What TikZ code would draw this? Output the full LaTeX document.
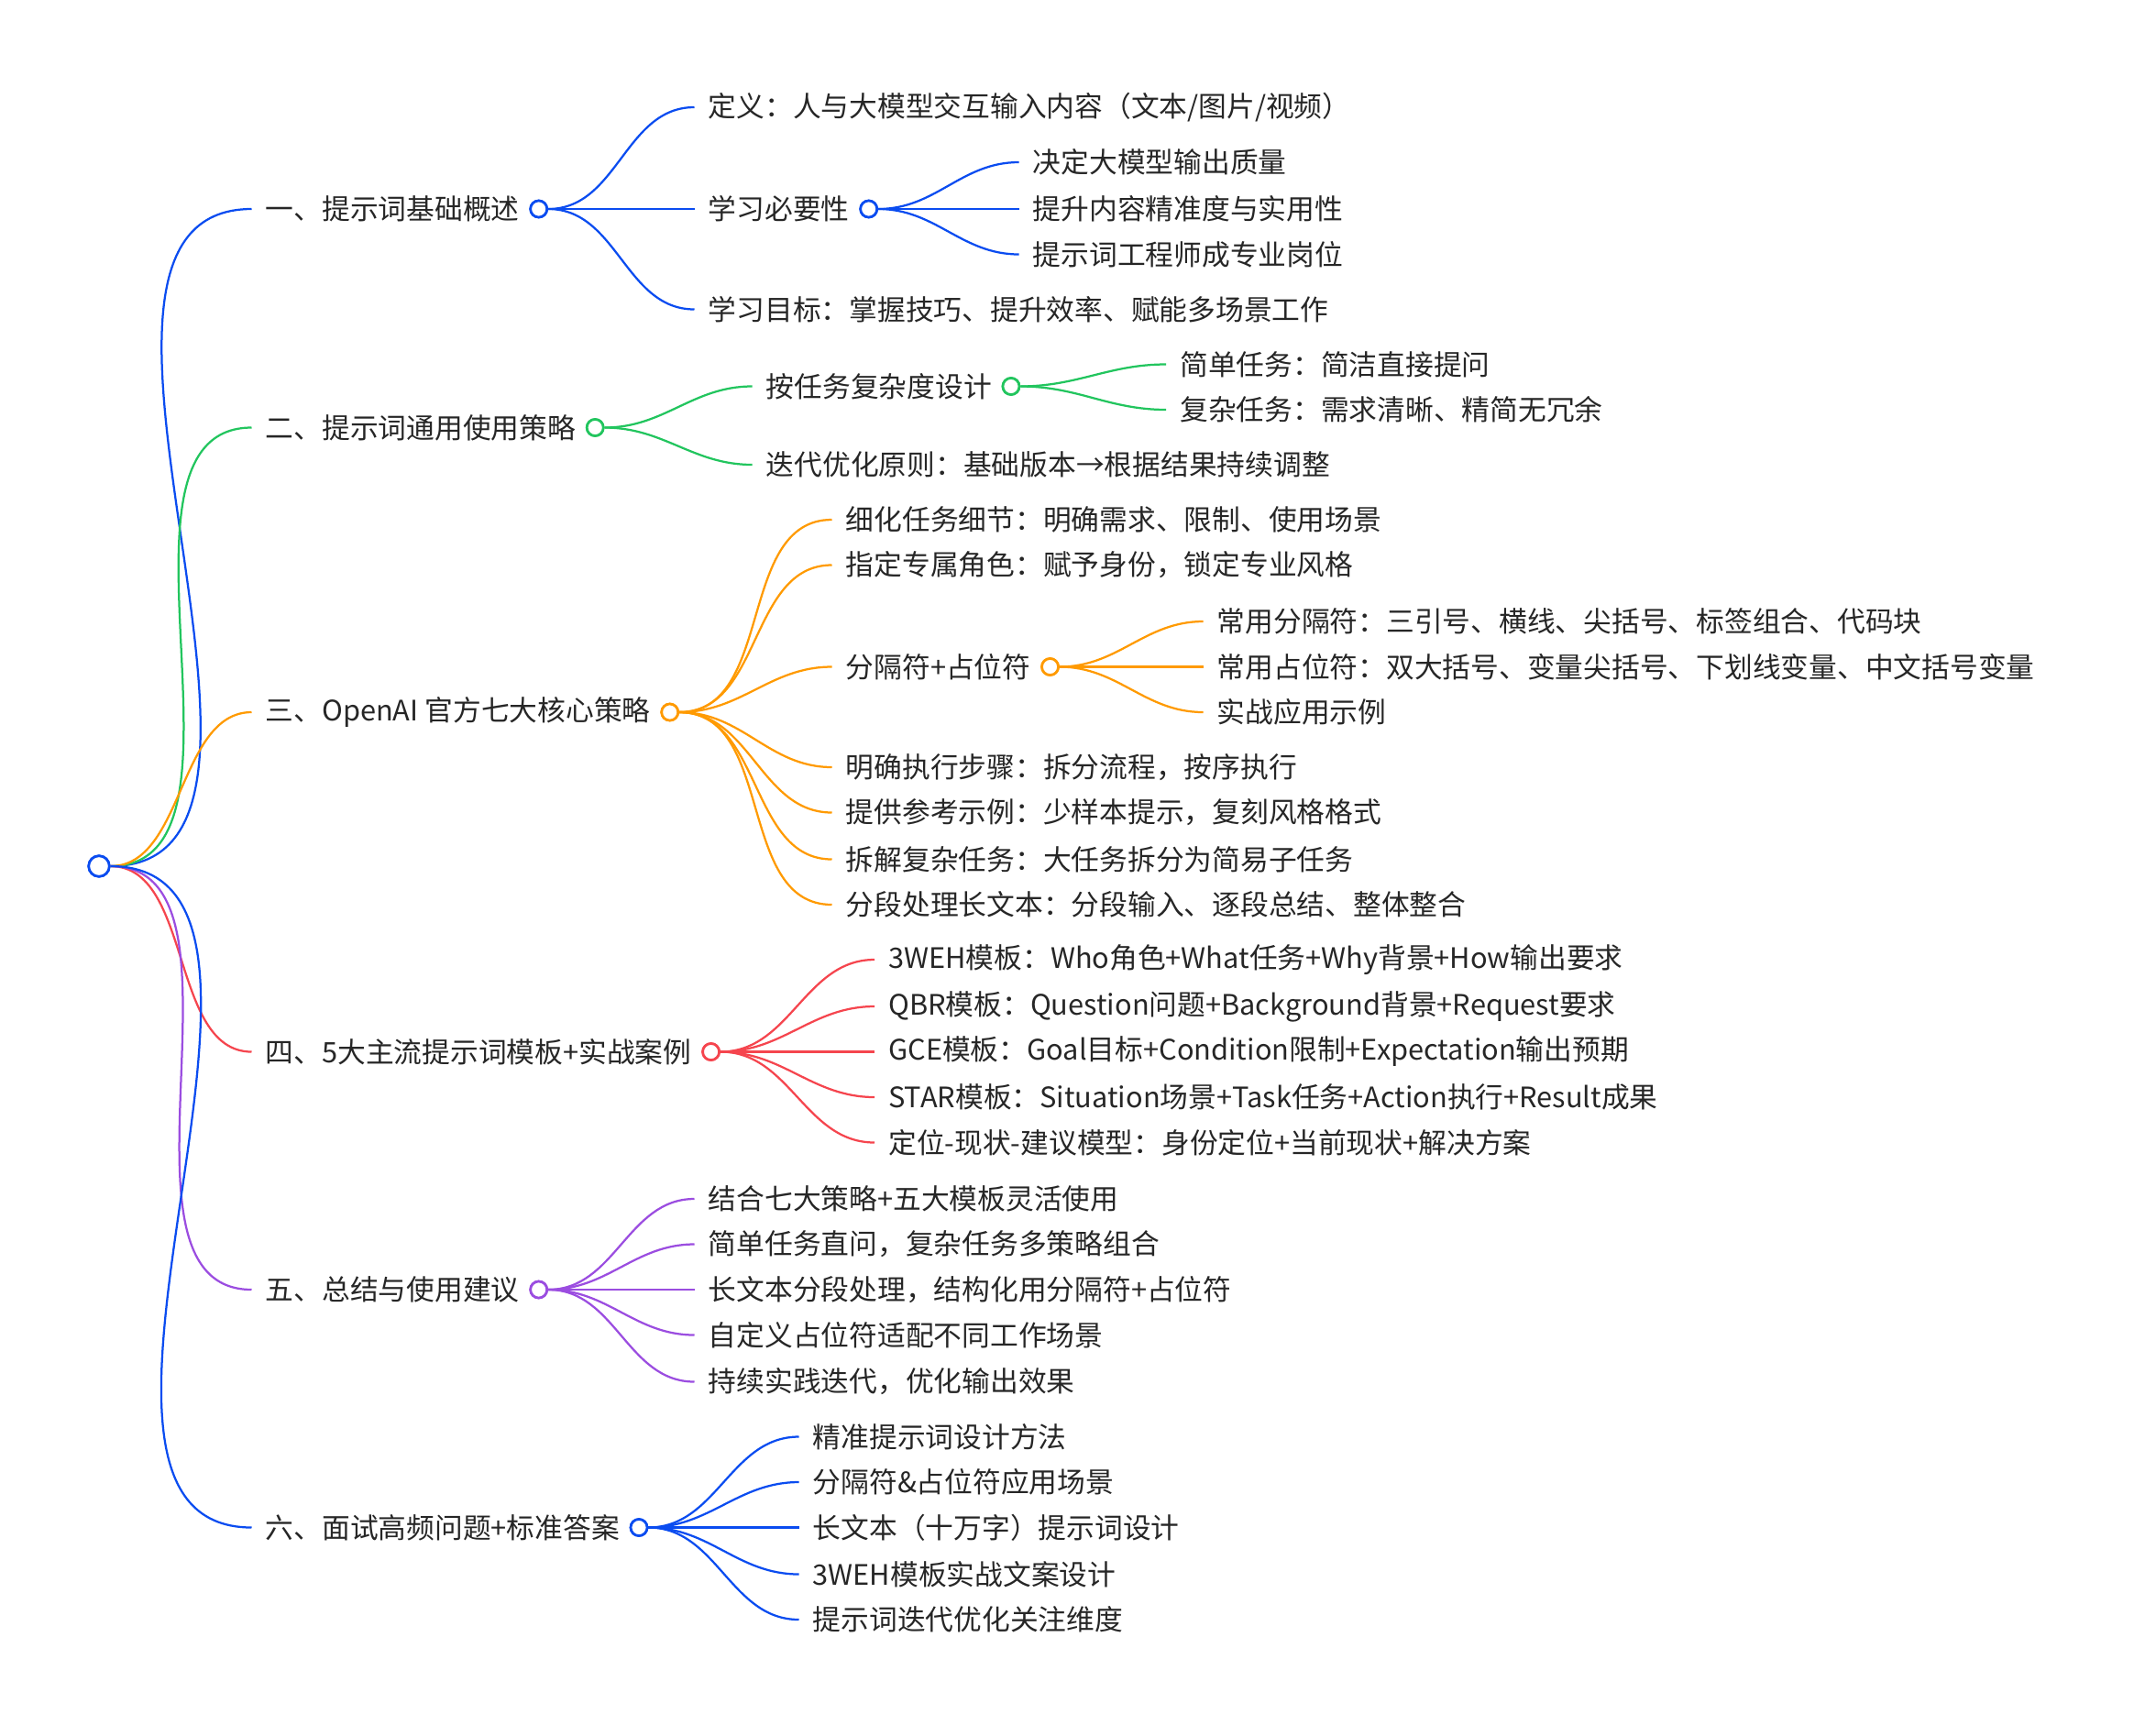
\documentclass[tikz,border=0pt]{standalone}
\usepackage{fontspec}
\setmainfont{Noto Sans CJK SC}
\definecolor{cb}{HTML}{0A4CF0}
\definecolor{cg}{HTML}{22C55E}
\definecolor{co}{HTML}{FF9A00}
\definecolor{cr}{HTML}{F5454E}
\definecolor{cp}{HTML}{9B4DE0}
\begin{document}
\begin{tikzpicture}[x=1pt,y=-1pt,
  t/.style={anchor=west,inner xsep=10pt,inner ysep=2pt,font=\fontsize{20.5}{24}\selectfont,text=black!85},
  dot/.style={circle,draw=#1,line width=1.8pt,fill=white,minimum size=12pt,inner sep=0pt,anchor=west,xshift=-3pt},
  ln/.style={draw=#1,line width=1.5pt},
  every to/.style={out=0,in=180}]
\useasboundingbox (0,0) rectangle (1568,1254);
% level 1
\node[t] (a) at (183,152) {一、提示词基础概述};
\node[t] (b) at (183,311) {二、提示词通用使用策略};
\node[t] (c) at (183,518) {三、OpenAI 官方七大核心策略};
\node[t] (d) at (183,765) {四、5大主流提示词模板+实战案例};
\node[t] (e) at (183,938) {五、总结与使用建议};
\node[t] (f) at (183,1111) {六、面试高频问题+标准答案};
\node[dot=cb] (ad) at (a.east) {};
\node[dot=cg] (bd) at (b.east) {};
\node[dot=co] (cd) at (c.east) {};
\node[dot=cr] (dd) at (d.east) {};
\node[dot=cp] (ed) at (e.east) {};
\node[dot=cb] (fd) at (f.east) {};
% group 1
\node[t] (a1) at (505,78) {定义：人与大模型交互输入内容（文本/图片/视频）};
\node[t] (a2) at (505,152) {学习必要性};
\node[t] (a3) at (505,225) {学习目标：掌握技巧、提升效率、赋能多场景工作};
\node[dot=cb] (a2d) at (a2.east) {};
\node[t] (a21) at (741,118) {决定大模型输出质量};
\node[t] (a22) at (741,152) {提升内容精准度与实用性};
\node[t] (a23) at (741,185) {提示词工程师成专业岗位};
% group 2
\node[t] (b1) at (547,281) {按任务复杂度设计};
\node[t] (b2) at (547,338) {迭代优化原则：基础版本→根据结果持续调整};
\node[dot=cg] (b1d) at (b1.east) {};
\node[t] (b11) at (848,265) {简单任务：简洁直接提问};
\node[t] (b12) at (848,298) {复杂任务：需求清晰、精简无冗余};
% group 3
\node[t] (c1) at (605,378) {细化任务细节：明确需求、限制、使用场景};
\node[t] (c2) at (605,411) {指定专属角色：赋予身份，锁定专业风格};
\node[t] (c3) at (605,485) {分隔符+占位符};
\node[t] (c4) at (605,558) {明确执行步骤：拆分流程，按序执行};
\node[t] (c5) at (605,591) {提供参考示例：少样本提示，复刻风格格式};
\node[t] (c6) at (605,625) {拆解复杂任务：大任务拆分为简易子任务};
\node[t] (c7) at (605,658) {分段处理长文本：分段输入、逐段总结、整体整合};
\node[dot=co] (c3d) at (c3.east) {};
\node[t] (c31) at (875,452) {常用分隔符：三引号、横线、尖括号、标签组合、代码块};
\node[t] (c32) at (875,485) {常用占位符：双大括号、变量尖括号、下划线变量、中文括号变量};
\node[t] (c33) at (875,518) {实战应用示例};
% group 4
\node[t] (d1) at (636,698) {3WEH模板：Who角色+What任务+Why背景+How输出要求};
\node[t] (d2) at (636,732) {QBR模板：Question问题+Background背景+Request要求};
\node[t] (d3) at (636,765) {GCE模板：Goal目标+Condition限制+Expectation输出预期};
\node[t] (d4) at (636,798) {STAR模板：Situation场景+Task任务+Action执行+Result成果};
\node[t] (d5) at (636,831) {定位-现状-建议模型：身份定位+当前现状+解决方案};
% group 5
\node[t] (e1) at (505,872) {结合七大策略+五大模板灵活使用};
\node[t] (e2) at (505,905) {简单任务直问，复杂任务多策略组合};
\node[t] (e3) at (505,938) {长文本分段处理，结构化用分隔符+占位符};
\node[t] (e4) at (505,971) {自定义占位符适配不同工作场景};
\node[t] (e5) at (505,1005) {持续实践迭代，优化输出效果};
% group 6
\node[t] (f1) at (581,1045) {精准提示词设计方法};
\node[t] (f2) at (581,1078) {分隔符\&占位符应用场景};
\node[t] (f3) at (581,1111) {长文本（十万字）提示词设计};
\node[t] (f4) at (581,1145) {3WEH模板实战文案设计};
\node[t] (f5) at (581,1178) {提示词迭代优化关注维度};
% root
\node[dot=cb,anchor=center,xshift=0pt,minimum size=15pt] (r) at (75,630) {};
% edges
\path[ln=cb] (r) to[out=0,in=180,looseness=0.9] (a.west);
\path[ln=cg] (r) to[out=0,in=180,looseness=0.9] (b.west);
\path[ln=co] (r) to[out=0,in=180,looseness=0.9] (c.west);
\path[ln=cr] (r) to[out=0,in=180,looseness=0.9] (d.west);
\path[ln=cp] (r) to[out=0,in=180,looseness=0.9] (e.west);
\path[ln=cb] (r) to[out=0,in=180,looseness=0.9] (f.west);
\foreach \d in {a1,a2,a3} \path[ln=cb] (ad.east) to (\d.west);
\foreach \d in {a21,a22,a23} \path[ln=cb] (a2d.east) to (\d.west);
\foreach \d in {b1,b2} \path[ln=cg] (bd.east) to (\d.west);
\foreach \d in {b11,b12} \path[ln=cg] (b1d.east) to (\d.west);
\foreach \d in {c1,c2,c3,c4,c5,c6,c7} \path[ln=co] (cd.east) to (\d.west);
\foreach \d in {c31,c32,c33} \path[ln=co] (c3d.east) to (\d.west);
\foreach \d in {d1,d2,d3,d4,d5} \path[ln=cr] (dd.east) to (\d.west);
\foreach \d in {e1,e2,e3,e4,e5} \path[ln=cp] (ed.east) to (\d.west);
\foreach \d in {f1,f2,f3,f4,f5} \path[ln=cb] (fd.east) to (\d.west);
% redraw dots on top
\foreach \n/\c in {ad/cb,bd/cg,cd/co,dd/cr,ed/cp,fd/cb,a2d/cb,b1d/cg,c3d/co}
  \draw[\c,line width=1.8pt,fill=white] (\n.center) circle (6pt);
\draw[cb,line width=1.8pt,fill=white] (r.center) circle (7.5pt);
\end{tikzpicture}
\end{document}
